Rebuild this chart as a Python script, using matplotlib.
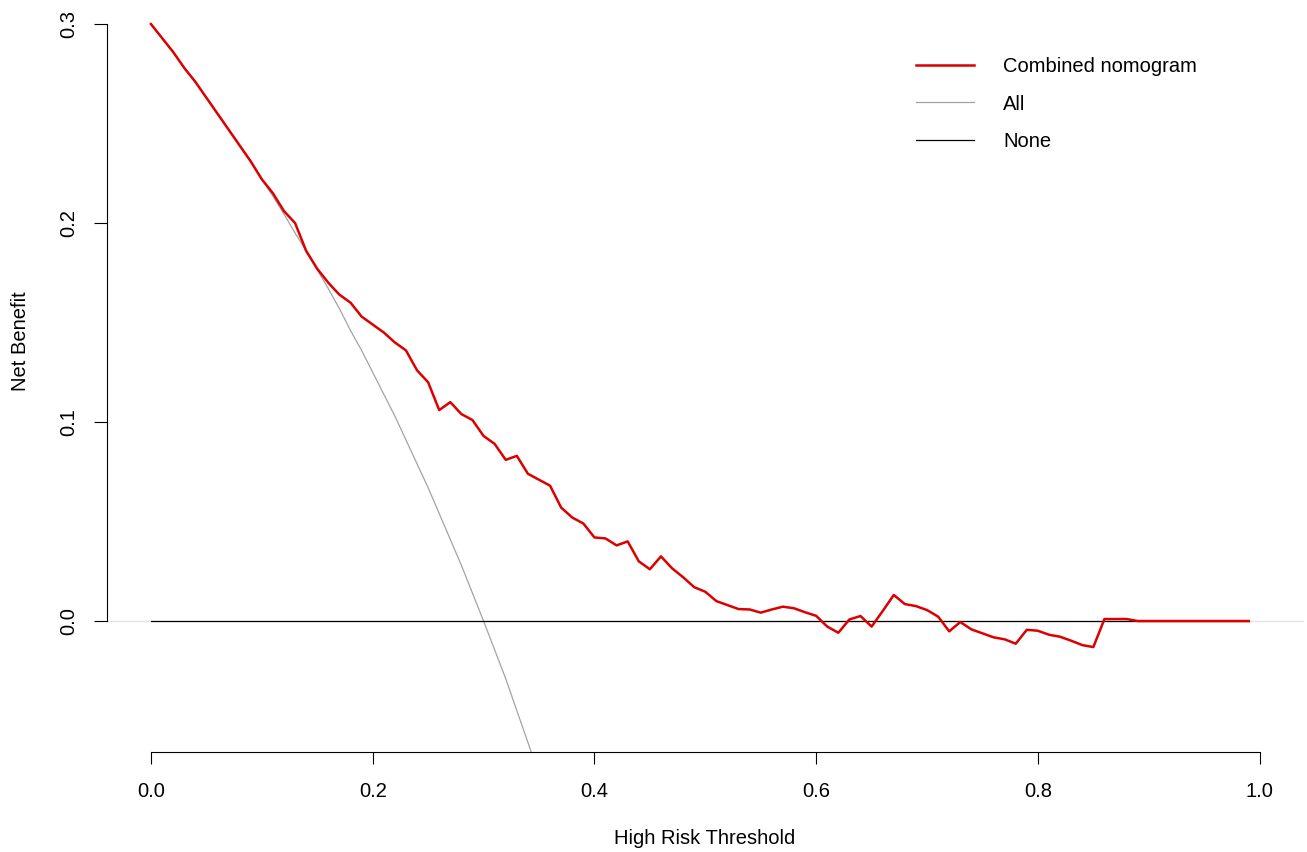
import matplotlib
matplotlib.use("Agg")
import matplotlib.pyplot as plt
import numpy as np

plt.rcParams['font.family'] = ['Liberation Sans', 'DejaVu Sans']

# ---- data ----
thresholds = [round(i * 0.01, 2) for i in range(100)]  # 0.00 .. 0.99

combined_nomogram = [
    0.300, 0.293, 0.286, 0.278, 0.271, 0.263, 0.255, 0.247, 0.239, 0.231,
    0.222, 0.215, 0.206, 0.200, 0.186, 0.177, 0.170, 0.164, 0.160, 0.153,
    0.149, 0.145, 0.140, 0.136, 0.126, 0.120, 0.106, 0.110, 0.104, 0.101,
    0.093, 0.089, 0.081, 0.083, 0.074, 0.071, 0.068, 0.057, 0.052, 0.049,
    0.042, 0.0415, 0.038, 0.040, 0.030, 0.026, 0.0325, 0.0265, 0.022, 0.017,
    0.0147, 0.010, 0.008, 0.006, 0.0058, 0.0042, 0.0058, 0.0072, 0.0064, 0.0044,
    0.0026, -0.0028, -0.0059, 0.0008, 0.0025, -0.0028, 0.005, 0.0131, 0.0085, 0.0075,
    0.0055, 0.0022, -0.0052, -0.0005, -0.0042, -0.0062, -0.0082, -0.0092, -0.0114, -0.0044,
    -0.0049, -0.0069, -0.0079, -0.0099, -0.0121, -0.0131, 0.001, 0.001, 0.001, 0.0,
    0.0, 0.0, 0.0, 0.0, 0.0, 0.0, 0.0, 0.0, 0.0, 0.0,
]

all_thresholds = [round(i * 0.01, 2) for i in range(36)]  # 0.00 .. 0.35
treat_all = [
    0.300, 0.293, 0.286, 0.278, 0.271, 0.263, 0.255, 0.247, 0.239, 0.231,
    0.222, 0.2135, 0.2045, 0.195, 0.186, 0.1765, 0.167, 0.157, 0.146, 0.136,
    0.125, 0.114, 0.103, 0.091, 0.079, 0.067, 0.054, 0.041, 0.028, 0.014,
    0.000, -0.0145, -0.029, -0.045, -0.061, -0.077,
]

treat_none = [0.0] * len(thresholds)

x_ticks = [0.0, 0.2, 0.4, 0.6, 0.8, 1.0]
x_ticklabels = ["0.0", "0.2", "0.4", "0.6", "0.8", "1.0"]
y_ticks = [0.0, 0.1, 0.2, 0.3]
y_ticklabels = ["0.0", "0.1", "0.2", "0.3"]

series_labels = ["Combined nomogram", "All", "None"]

# ---- figure ----
W, H = 1307, 852
fig = plt.figure(figsize=(W / 100, H / 100), dpi=100)
left_px, right_px, top_px, bottom_px = 106.6, 1304.0, 0.0, 752.0
ax = fig.add_axes([left_px / W, (H - bottom_px) / H,
                   (right_px - left_px) / W, (bottom_px - top_px) / H])
ax.set_xlim(-0.04, 1.04)
ax.set_ylim(-0.06583, 0.3121)

FS = 14.5

ax.axhline(0, color='#e4e4e4', lw=1.0, zorder=1)
l_all, = ax.plot(all_thresholds, treat_all, color='#a3a3a3', lw=0.9, zorder=2)
l_none, = ax.plot(thresholds, treat_none, color='black', lw=0.9, zorder=3)
l_comb, = ax.plot(thresholds, combined_nomogram, color='#dc0000', lw=1.8, zorder=4)

for s in ['top', 'right']:
    ax.spines[s].set_visible(False)
ax.spines['bottom'].set_bounds(0, 1)
ax.spines['left'].set_bounds(0, 0.3)
for s in ['bottom', 'left']:
    ax.spines[s].set_linewidth(0.8)

ax.set_xticks(x_ticks)
ax.set_xticklabels(x_ticklabels, fontsize=FS)
ax.set_yticks(y_ticks)
ax.set_yticklabels(y_ticklabels, fontsize=FS, rotation=90, va='center')
ax.tick_params(axis='x', direction='out', length=8.4, width=0.8, pad=13)
ax.tick_params(axis='y', direction='out', length=9.6, width=0.8, pad=11)

fig.text(705 / W, 1 - 838 / H, "High Risk Threshold", fontsize=FS,
         ha='center', va='center')
fig.text(21 / W, 1 - 341 / H, "Net Benefit", fontsize=FS,
         ha='center', va='center', rotation=90)

ax.legend([l_comb, l_all, l_none], series_labels, loc='upper left',
          bbox_to_anchor=(916 / W, 1 - 57 / H), bbox_transform=fig.transFigure,
          frameon=False, fontsize=FS, borderpad=0, borderaxespad=0,
          handlelength=2.88, handletextpad=1.44, labelspacing=0.92)

fig.savefig("out.png", dpi=100)
